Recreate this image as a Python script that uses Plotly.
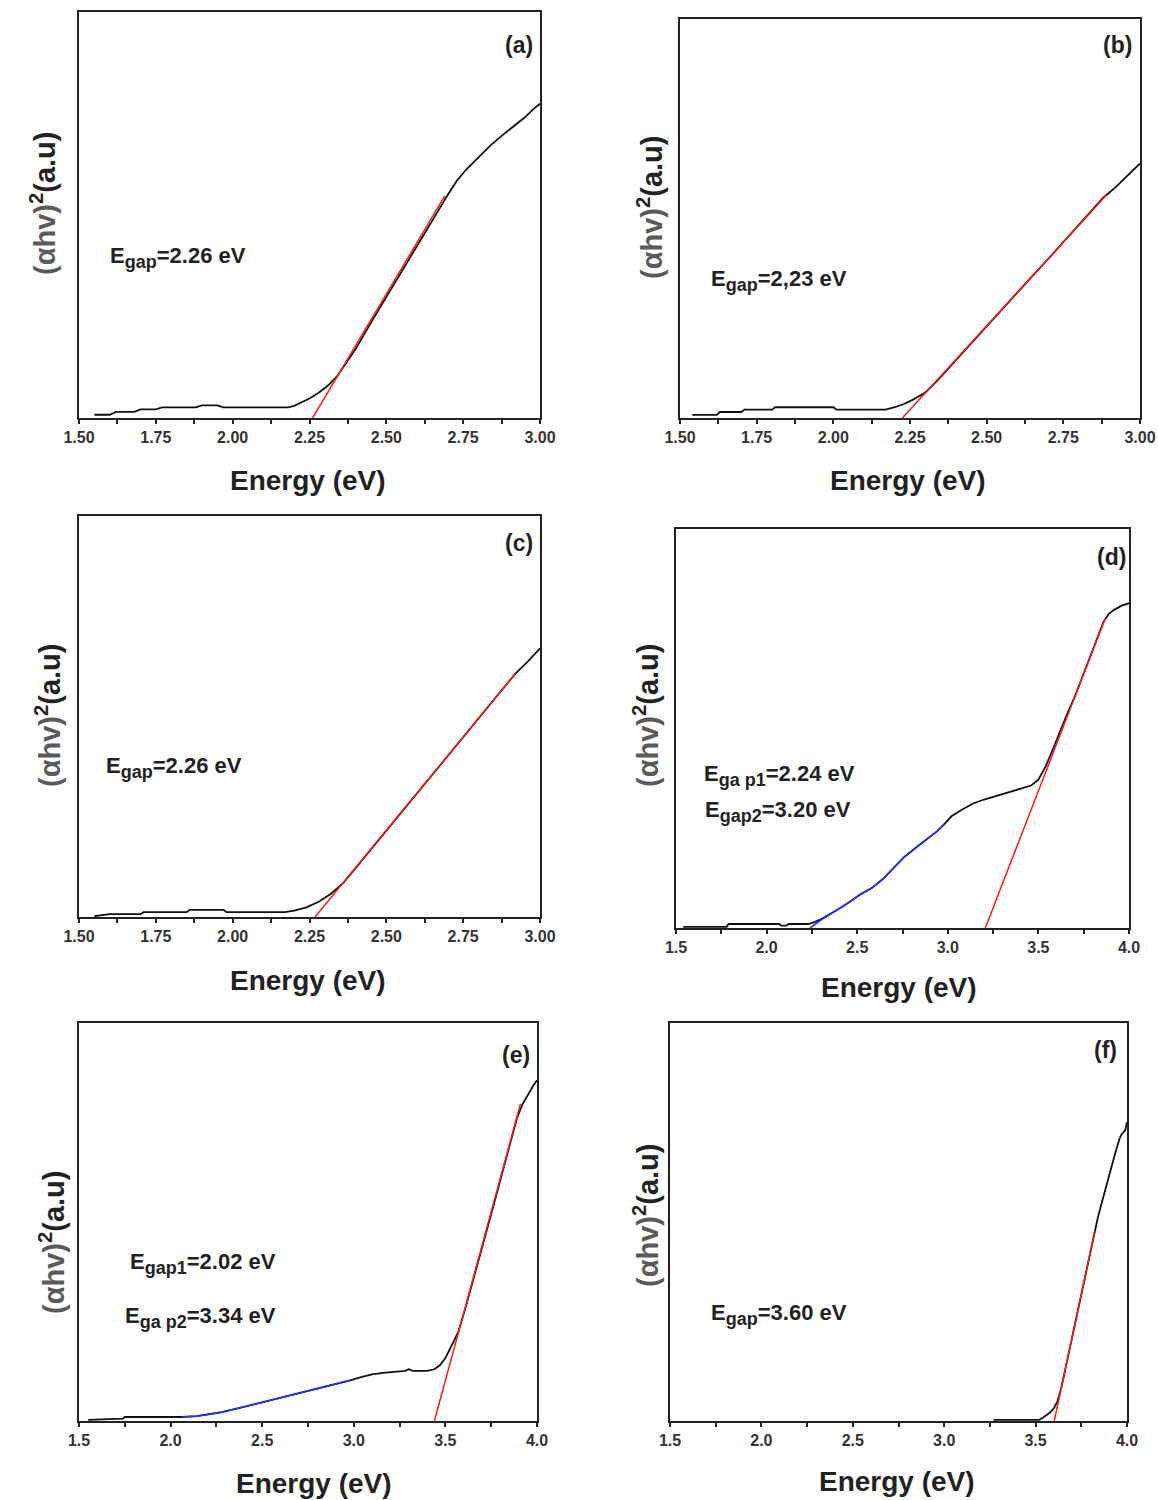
import plotly.graph_objects as go

W, H = 1158, 1500

# ---------------- data (normalised (αhv)^2, a.u.) ----------------
a_x = [1.55, 1.60, 1.62, 1.68, 1.70, 1.75, 1.77, 1.88, 1.90, 1.95, 1.97, 2.10, 2.18, 2.20, 2.22, 2.25, 2.28, 2.31, 2.34, 2.37, 2.40, 2.45, 2.50, 2.55, 2.60, 2.65, 2.70, 2.73, 2.76, 2.80, 2.84, 2.88, 2.92, 2.95, 2.98, 3.00]
a_y = [0.008, 0.008, 0.015, 0.015, 0.021, 0.021, 0.026, 0.026, 0.031, 0.031, 0.026, 0.026, 0.026, 0.030, 0.037, 0.048, 0.062, 0.080, 0.103, 0.135, 0.170, 0.235, 0.298, 0.362, 0.425, 0.490, 0.550, 0.585, 0.612, 0.642, 0.672, 0.698, 0.722, 0.740, 0.762, 0.774]
a_fit_x = [2.26, 2.69]
a_fit_y = [0.0, 0.547]

b_x = [1.54, 1.62, 1.63, 1.70, 1.71, 1.80, 1.81, 2.00, 2.01, 2.17, 2.20, 2.23, 2.26, 2.30, 2.34, 2.40, 2.46, 2.52, 2.58, 2.64, 2.70, 2.76, 2.82, 2.88, 2.92, 2.96, 3.00]
b_y = [0.008, 0.008, 0.015, 0.015, 0.021, 0.021, 0.027, 0.027, 0.021, 0.021, 0.027, 0.035, 0.046, 0.064, 0.094, 0.145, 0.197, 0.248, 0.298, 0.348, 0.398, 0.449, 0.500, 0.552, 0.578, 0.608, 0.638]
b_fit_x = [2.225, 2.89]
b_fit_y = [0.0, 0.558]

c_x = [1.55, 1.58, 1.60, 1.70, 1.71, 1.85, 1.86, 1.97, 1.98, 2.17, 2.20, 2.24, 2.28, 2.32, 2.36, 2.40, 2.46, 2.52, 2.58, 2.64, 2.70, 2.76, 2.82, 2.88, 2.92, 2.96, 3.00]
c_y = [0.002, 0.004, 0.007, 0.007, 0.012, 0.012, 0.018, 0.018, 0.012, 0.012, 0.016, 0.024, 0.038, 0.058, 0.085, 0.122, 0.178, 0.235, 0.291, 0.347, 0.402, 0.458, 0.514, 0.570, 0.607, 0.637, 0.670]
c_fit_x = [2.268, 2.92]
c_fit_y = [0.0, 0.607]

d_x = [1.54, 1.78, 1.79, 2.07, 2.08, 2.11, 2.12, 2.23, 2.26, 2.30, 2.35, 2.40, 2.46, 2.52, 2.58, 2.64, 2.70, 2.76, 2.82, 2.88, 2.94, 2.98, 3.02, 3.08, 3.14, 3.20, 3.26, 3.32, 3.38, 3.42, 3.46, 3.50, 3.54, 3.58, 3.62, 3.66, 3.70, 3.74, 3.78, 3.82, 3.86, 3.89, 3.92, 3.96, 4.00]
d_y = [0.003, 0.003, 0.010, 0.010, 0.006, 0.006, 0.010, 0.010, 0.014, 0.022, 0.035, 0.048, 0.066, 0.085, 0.100, 0.122, 0.150, 0.178, 0.200, 0.222, 0.242, 0.260, 0.280, 0.297, 0.312, 0.322, 0.330, 0.338, 0.346, 0.350, 0.357, 0.372, 0.405, 0.448, 0.494, 0.538, 0.579, 0.626, 0.672, 0.719, 0.768, 0.788, 0.798, 0.808, 0.814]
d_fit1_x = [2.24, 2.30, 2.35, 2.40, 2.46, 2.52, 2.58, 2.64, 2.70, 2.76, 2.82, 2.88, 2.94, 2.98]
d_fit1_y = [0.0, 0.020, 0.034, 0.048, 0.066, 0.085, 0.100, 0.122, 0.150, 0.178, 0.200, 0.222, 0.242, 0.260]
d_fit2_x = [3.207, 3.868]
d_fit2_y = [0.0, 0.775]

e_x = [1.55, 1.74, 1.75, 2.06, 2.14, 2.20, 2.28, 2.36, 2.44, 2.52, 2.60, 2.68, 2.76, 2.84, 2.92, 2.98, 3.04, 3.10, 3.16, 3.22, 3.28, 3.30, 3.32, 3.34, 3.40, 3.44, 3.47, 3.50, 3.53, 3.57, 3.61, 3.65, 3.69, 3.73, 3.77, 3.81, 3.85, 3.89, 3.92, 3.95, 3.98, 4.00]
e_y = [0.003, 0.006, 0.010, 0.010, 0.012, 0.016, 0.022, 0.031, 0.040, 0.050, 0.059, 0.068, 0.076, 0.085, 0.094, 0.102, 0.110, 0.117, 0.121, 0.124, 0.126, 0.130, 0.126, 0.126, 0.126, 0.130, 0.140, 0.158, 0.185, 0.223, 0.285, 0.350, 0.418, 0.486, 0.554, 0.621, 0.690, 0.760, 0.795, 0.820, 0.843, 0.856]
e_fit1_x = [2.06, 2.14, 2.20, 2.28, 2.36, 2.44, 2.52, 2.60, 2.68, 2.76, 2.84, 2.92, 2.98]
e_fit1_y = [0.010, 0.012, 0.016, 0.022, 0.031, 0.040, 0.050, 0.059, 0.068, 0.076, 0.085, 0.094, 0.102]
e_fit2_x = [3.44, 3.91]
e_fit2_y = [0.0, 0.797]

f_x = [3.27, 3.52, 3.54, 3.56, 3.58, 3.60, 3.62, 3.64, 3.66, 3.68, 3.70, 3.72, 3.74, 3.76, 3.78, 3.80, 3.82, 3.84, 3.86, 3.88, 3.90, 3.92, 3.94, 3.96, 3.97, 3.99, 4.00]
f_y = [0.003, 0.003, 0.008, 0.014, 0.022, 0.032, 0.050, 0.082, 0.125, 0.168, 0.211, 0.254, 0.297, 0.340, 0.383, 0.426, 0.469, 0.510, 0.545, 0.580, 0.612, 0.645, 0.680, 0.710, 0.720, 0.730, 0.751]
f_fit_x = [3.602, 3.824]
f_fit_y = [0.0, 0.478]

x_ranges = {"a": [1.5, 3.0], "b": [1.5, 3.0], "c": [1.5, 3.0],
            "d": [1.5, 4.0], "e": [1.5, 4.0], "f": [1.5, 4.0]}
x_tick_step = {"a": 0.25, "b": 0.25, "c": 0.25, "d": 0.5, "e": 0.5, "f": 0.5}
x_tick_fmt = {"a": ".2f", "b": ".2f", "c": ".2f", "d": ".1f", "e": ".1f", "f": ".1f"}

SUB = "<sub><span style='font-size:18px'>{}</span></sub>"
gap_texts = {
    "a": ["E" + SUB.format("gap") + "=2.26 eV"],
    "b": ["E" + SUB.format("gap") + "=2,23 eV"],
    "c": ["E" + SUB.format("gap") + "=2.26 eV"],
    "d": ["E" + SUB.format("ga p1") + "=2.24 eV", "E" + SUB.format("gap2") + "=3.20 eV"],
    "e": ["E" + SUB.format("gap1") + "=2.02 eV", "E" + SUB.format("ga p2") + "=3.34 eV"],
    "f": ["E" + SUB.format("gap") + "=3.60 eV"],
}
x_title = "Energy (eV)"
y_title = "<span style='color:#5a5a5a'>(αhv)</span><sup>2</sup>(a.u)"

# ---------------- layout geometry (pixels) ----------------
boxes = {  # left, top, right, bottom
    "a": (79, 12, 540, 418),
    "b": (680, 19, 1140, 418),
    "c": (79, 516, 540, 917),
    "d": (676, 529, 1129, 928),
    "e": (79, 1023, 537, 1421),
    "f": (670, 1023, 1127, 1421),
}
text_pos = {  # domain-relative (x, y) of each gap text line
    "a": [(0.062, 0.395)],
    "b": [(0.064, 0.344)],
    "c": [(0.054, 0.374)],
    "d": [(0.057, 0.383), (0.060, 0.291)],
    "e": [(0.107, 0.395), (0.095, 0.261)],
    "f": [(0.085, 0.268)],
}
label_pos = {"a": (0.99, 0.918), "b": (0.986, 0.935), "c": (0.99, 0.932),
             "d": (0.998, 0.931), "e": (0.988, 0.919), "f": (0.982, 0.931)}
xtitle_pos = {"a": (308, 480), "b": (908, 480), "c": (308, 980),
              "d": (899, 988), "e": (314, 1483), "f": (897, 1481)}
ytitle_pos = {"a": (43, 203), "b": (650, 207), "c": (48, 715),
              "d": (646, 715), "e": (52, 1242), "f": (646, 1215)}

panels = {
    "a": [(a_x, a_y, "#111111", 1.8), (a_fit_x, a_fit_y, "#ff1a1a", 1.5)],
    "b": [(b_x, b_y, "#111111", 1.8), (b_fit_x, b_fit_y, "#ff1a1a", 1.5)],
    "c": [(c_x, c_y, "#111111", 1.8), (c_fit_x, c_fit_y, "#ff1a1a", 1.5)],
    "d": [(d_x, d_y, "#111111", 1.8), (d_fit1_x, d_fit1_y, "#2233ff", 1.6), (d_fit2_x, d_fit2_y, "#ff1a1a", 1.5)],
    "e": [(e_x, e_y, "#111111", 1.8), (e_fit1_x, e_fit1_y, "#2233ff", 1.6), (e_fit2_x, e_fit2_y, "#ff1a1a", 1.5)],
    "f": [(f_x, f_y, "#111111", 1.8), (f_fit_x, f_fit_y, "#ff1a1a", 1.5)],
}

FONT = "Liberation Sans, Arial, sans-serif"
fig = go.Figure()
layout = dict(width=W, height=H, margin=dict(l=0, r=0, t=0, b=0, autoexpand=False),
              paper_bgcolor="white", plot_bgcolor="white", showlegend=False,
              font=dict(family=FONT, color="#222"))
annotations = []

for i, key in enumerate(["a", "b", "c", "d", "e", "f"]):
    n = i + 1
    xa = "x" if n == 1 else f"x{n}"
    ya = "y" if n == 1 else f"y{n}"
    l, t, r, b = boxes[key]
    for xs, ys, col, wd in panels[key]:
        fig.add_trace(go.Scatter(x=xs, y=ys, mode="lines", xaxis=xa, yaxis=ya,
                                 line=dict(color=col, width=wd), hoverinfo="skip"))
    layout["xaxis" if n == 1 else f"xaxis{n}"] = dict(
        domain=[l / W, r / W], anchor=ya, range=x_ranges[key], automargin=False,
        tick0=x_ranges[key][0], dtick=x_tick_step[key], tickformat=x_tick_fmt[key],
        ticks="outside", ticklen=4, tickwidth=2, tickcolor="#222",
        minor=dict(dtick=x_tick_step[key] / 2, ticks="outside", ticklen=4,
                   tickwidth=2, tickcolor="#222", showgrid=False),
        showline=True, mirror=True, linecolor="#222", linewidth=2,
        showgrid=False, zeroline=False,
        tickfont=dict(family=FONT, size=16, color="#333", weight="bold"),
    )
    layout["yaxis" if n == 1 else f"yaxis{n}"] = dict(
        domain=[1 - b / H, 1 - t / H], anchor=xa, range=[0, 1], automargin=False,
        showticklabels=False, ticks="", showline=True, mirror=True,
        linecolor="#222", linewidth=2, showgrid=False, zeroline=False,
    )
    xd = "x domain" if n == 1 else f"x{n} domain"
    yd = "y domain" if n == 1 else f"y{n} domain"
    for txt, (px, py) in zip(gap_texts[key], text_pos[key]):
        annotations.append(dict(text=txt, xref=xd, yref=yd, x=px, y=py,
                                xanchor="left", yanchor="middle", showarrow=False,
                                font=dict(family=FONT, size=22, color="#222", weight="bold")))
    lx, ly = label_pos[key]
    annotations.append(dict(text=f"({key})", xref=xd, yref=yd, x=lx, y=ly,
                            xanchor="right", yanchor="middle", showarrow=False,
                            font=dict(family=FONT, size=23, color="#222", weight="bold")))
    tx, ty = xtitle_pos[key]
    annotations.append(dict(text=x_title, xref="paper", yref="paper",
                            x=tx / W, y=1 - ty / H, xanchor="center", yanchor="middle",
                            showarrow=False,
                            font=dict(family=FONT, size=28, color="#222", weight="bold")))
    yx, yy = ytitle_pos[key]
    annotations.append(dict(text=y_title, xref="paper", yref="paper",
                            x=yx / W, y=1 - yy / H, xanchor="center", yanchor="middle",
                            textangle=-90, showarrow=False,
                            font=dict(family=FONT, size=29, color="#222", weight="bold")))

layout["annotations"] = annotations
fig.update_layout(**layout)
fig.write_html("out.html")
